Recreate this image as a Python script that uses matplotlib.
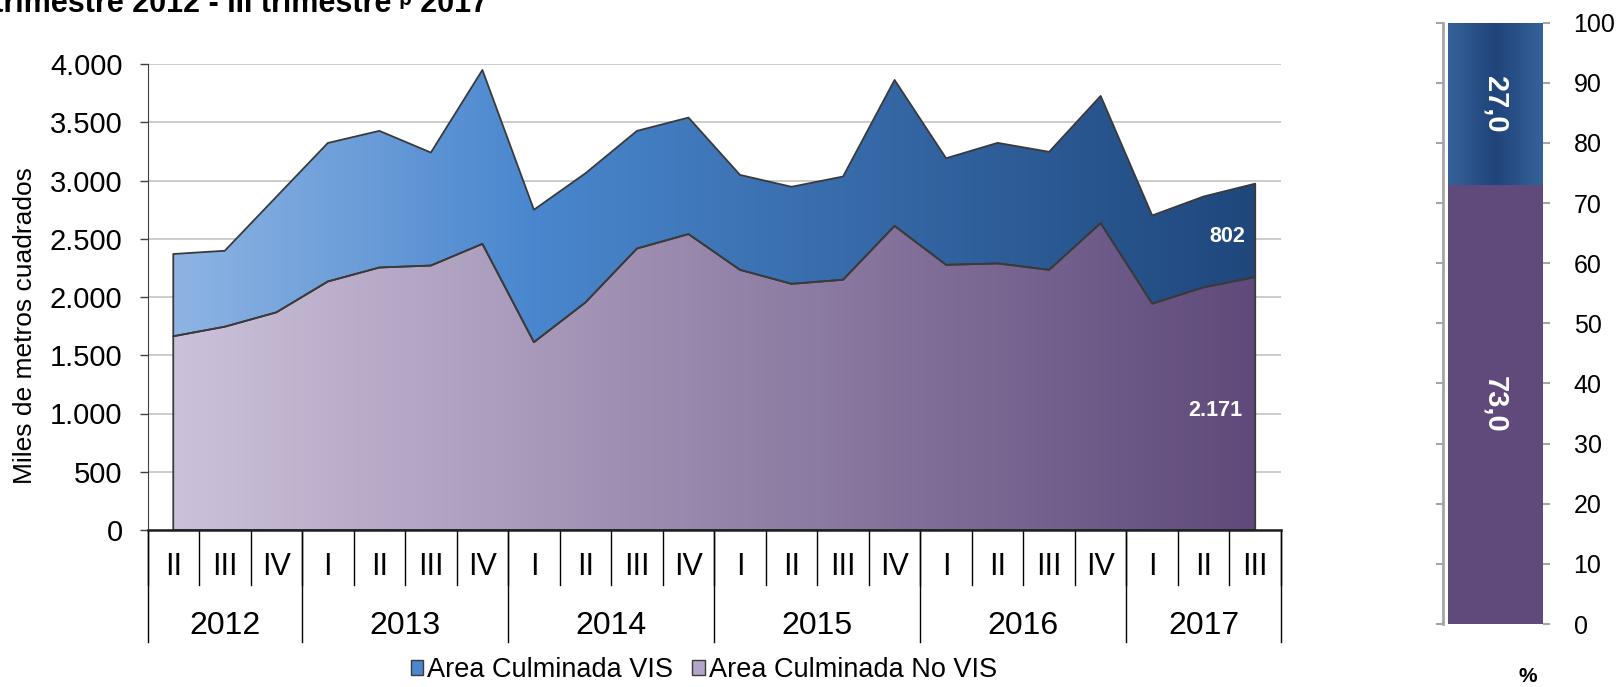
import numpy as np
import matplotlib.pyplot as plt
from matplotlib.colors import LinearSegmentedColormap
from matplotlib.patches import Patch
from matplotlib.transforms import blended_transform_factory

plt.rcParams['font.family'] = ['Liberation Sans', 'DejaVu Sans']

# datos (miles de m2)
trimestres = ['II', 'III', 'IV'] + ['I', 'II', 'III', 'IV'] * 4 + ['I', 'II', 'III']
anios = ['2012', '2013', '2014', '2015', '2016', '2017']
trim_por_anio = [3, 4, 4, 4, 4, 3]

no_vis = [1663, 1745, 1868, 2133, 2253, 2270, 2456, 1612, 1953, 2416, 2540,
          2233, 2113, 2148, 2610, 2276, 2288, 2233, 2634, 1943, 2083, 2171]
vis = [706, 652, 992, 1189, 1173, 970, 1493, 1137, 1109, 1010, 1000,
       815, 833, 886, 1253, 915, 1035, 1013, 1092, 757, 780, 802]

# participacion ultimo trimestre (%)
pct_no_vis = 73.0
pct_vis = 27.0

W, H = 1617, 687
fig = plt.figure(figsize=(W / 100, H / 100), dpi=100)

# ---- grafico principal ----
ax = fig.add_axes([147.5 / W, 1 - 530 / H, (1281 - 147.5) / W, (530 - 64) / H])
x = np.arange(len(no_vis))
no_vis = np.array(no_vis)
total = no_vis + np.array(vis)


def relleno_degradado(ax, x, y0, y1, colores, ext):
    poly = ax.fill_between(x, y0, y1, facecolor='none', edgecolor='#3a3a3a',
                           linewidth=1.3, zorder=4)
    cmap = LinearSegmentedColormap.from_list('g', colores)
    grad = np.linspace(0, 1, 256).reshape(1, -1)
    img = ax.imshow(grad, cmap=cmap, aspect='auto', extent=ext,
                    origin='lower', zorder=3)
    img.set_clip_path(poly.get_paths()[0], transform=ax.transData)


relleno_degradado(ax, x, total, no_vis,
                  [(0, '#8eb4e3'), (0.33, '#4a87ce'), (1, '#1f477c')],
                  [0, 21, 0, 4000])
relleno_degradado(ax, x, no_vis, 0,
                  ['#ccc1da', '#5f4a7b'], [0, 21, 0, 4000])

ax.set_xlim(-0.5, len(x) - 0.5)
ax.set_ylim(0, 4000)
ax.set_yticks(np.arange(0, 4001, 500))
ax.set_yticklabels([f'{v:,}'.replace(',', '.') for v in range(0, 4001, 500)])
ax.yaxis.grid(True, color='#c4c4c4', linewidth=1.2)
ax.set_axisbelow(True)
ax.tick_params(axis='y', labelsize=21, length=6, width=1, color='#404040', pad=12)
ax.set_xticks([])
for s in ['top', 'right']:
    ax.spines[s].set_visible(False)
ax.spines['left'].set_color('#404040')
ax.spines['bottom'].set_color('#202020')
ax.spines['bottom'].set_linewidth(1.8)
ax.spines['bottom'].set_zorder(6)
fig.text(25 / W, 1 - 326 / H, 'Miles de metros cuadrados', rotation=90,
         ha='center', va='center', fontsize=19)

# etiquetas de categorias en dos niveles
tr = blended_transform_factory(ax.transData, ax.transAxes)
for i, t in enumerate(trimestres):
    ax.text(i, -0.079, t, transform=tr, ha='center', va='center', fontsize=22)
limites = np.arange(len(x) + 1) - 0.5
for b in limites:
    ax.plot([b, b], [0, -0.118], transform=tr, color='black', lw=1, clip_on=False)
pos = 0
for a, n in zip(anios, trim_por_anio):
    ax.text(pos + n / 2 - 0.5, -0.207, a, transform=tr, ha='center', va='center', fontsize=23)
    ax.plot([pos - 0.5] * 2, [0, -0.24], transform=tr, color='black', lw=1, clip_on=False)
    pos += n
ax.plot([pos - 0.5] * 2, [0, -0.24], transform=tr, color='black', lw=1, clip_on=False)

# etiquetas del ultimo dato
ax.annotate(f'{vis[-1]}', (x[-1], no_vis[-1] + vis[-1] / 2 - 50), xytext=(-7, 0),
            textcoords='offset points', ha='right', va='center',
            color='white', fontsize=15.5, fontweight='bold', zorder=7)
ax.annotate(f'{no_vis[-1]:,}'.replace(',', '.'), (x[-1], no_vis[-1] / 2 - 60),
            xytext=(-9, 0), textcoords='offset points', ha='right', va='center',
            color='white', fontsize=15.5, fontweight='bold', zorder=7)

fig.legend(handles=[Patch(facecolor='#4a87ce', edgecolor='#3a3a3a', label='Area Culminada VIS'),
                    Patch(facecolor='#b3a5c9', edgecolor='#3a3a3a', label='Area Culminada No VIS')],
           loc='center', bbox_to_anchor=(704 / W, 1 - 670 / H), ncol=2, frameon=False,
           fontsize=19.5, handlelength=0.45, handleheight=0.45, handletextpad=0.15,
           columnspacing=0.7, borderpad=0)

fig.text(488 / W, 1 - 12.5 / H, 'II trimestre 2012 - III trimestre ᵖ 2017',
         ha='right', va='baseline', fontsize=22, fontweight='bold')

# ---- barra de participacion ----
ax2 = fig.add_axes([1443 / W, 1 - 624 / H, 100 / W, (624 - 22.7) / H])
ax2.bar(0.525, pct_no_vis, width=0.95, color='#5f4a7b', zorder=2)
cm2 = LinearSegmentedColormap.from_list('b', ['#36629a', '#1f4479', '#36629a'])
ax2.imshow(np.linspace(0, 1, 256).reshape(1, -1), cmap=cm2, aspect='auto',
           extent=[0.05, 1, pct_no_vis, 100], zorder=2)
ax2.set_xlim(0, 1)
ax2.set_ylim(0, 100)
ax2.set_yticks(np.arange(0, 101, 10))
ax2.set_xticks([])
ax2.tick_params(axis='y', left=True, right=True, labelleft=False, labelright=True,
                direction='out', length=5, width=1.5, color='#a6a6a6', labelsize=18, pad=17)
for s in ['top', 'right', 'bottom']:
    ax2.spines[s].set_visible(False)
ax2.spines['left'].set_color('#a6a6a6')
ax2.spines['left'].set_linewidth(2)
ax2.text(0.525, pct_no_vis + pct_vis / 2, f'{pct_vis:.1f}'.replace('.', ','), rotation=-90,
         ha='center', va='center', color='white', fontsize=21, fontweight='bold', zorder=3)
ax2.text(0.525, pct_no_vis / 2, f'{pct_no_vis:.1f}'.replace('.', ','), rotation=-90,
         ha='center', va='center', color='white', fontsize=21, fontweight='bold', zorder=3)
fig.text(1528 / W, 1 - 677 / H, '%', ha='center', va='center', fontsize=15, fontweight='bold')

fig.savefig('out.png', dpi=100)
